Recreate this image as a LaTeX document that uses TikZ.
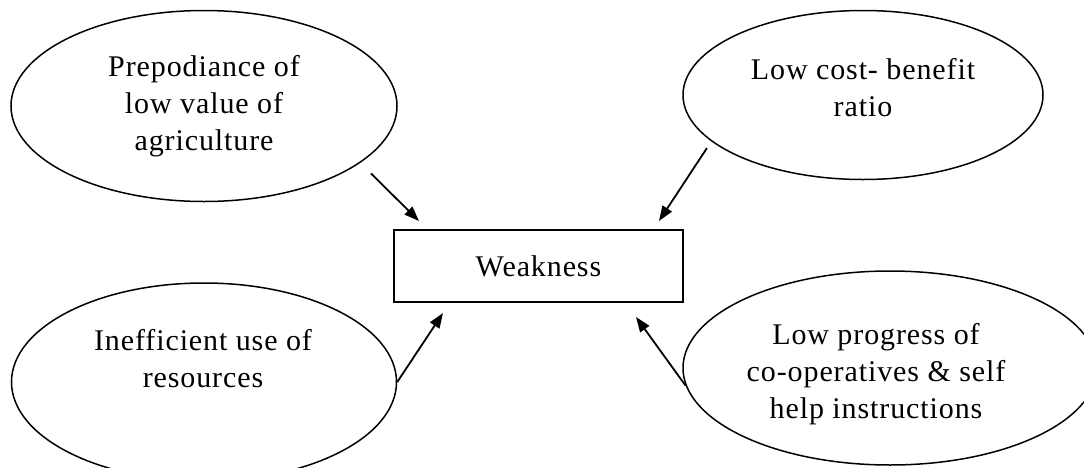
\documentclass[tikz,border=0pt]{standalone}
\usepackage{fontspec}
\setmainfont[LetterSpace=3]{Liberation Serif}
\usetikzlibrary{shapes.geometric,arrows.meta}

\begin{document}
\begin{tikzpicture}[x=0.5pt,y=-0.5pt,
  every node/.style={font=\fontsize{15}{18.5}\selectfont},
  oval/.style={draw,ellipse,line width=0.75pt,inner sep=0pt},
  label text/.style={align=center,inner sep=0pt},
  centre box/.style={draw,rectangle,line width=0.95pt,minimum width=144.5pt,minimum height=36pt,inner sep=0pt},
  arr/.style={line width=0.9pt,-{Triangle[length=7.5pt,width=5.5pt]}}
]
\useasboundingbox (0,0) rectangle (1084,467);

% central box
\node[centre box] (w) at (538.5,266) {Weakness};

% the four causes
\node[oval,minimum width=193pt,minimum height=95.5pt] (tl) at (204,106) {};
\node[label text] (tltext) at (204,106) {Prepodiance of\\low value of\\agriculture};

\node[oval,minimum width=180pt,minimum height=84.5pt] (tr) at (863,95) {};
\node[label text] (trtext) at (863,88) {Low cost- benefit\\ratio};

\node[oval,minimum width=192.5pt,minimum height=99pt] (bl) at (204,382) {};
\node[label text] (bltext) at (203,359) {Inefficient use of\\resources};

\node[oval,minimum width=207pt,minimum height=97pt] (br) at (890,368) {};
\node[label text] (brtext) at (876,374) {Low progress of\\co-operatives \& self\\help instructions};

% arrow tips near the box
\coordinate (tipTL) at (419,221);
\coordinate (tipTR) at (659,221);
\coordinate (tipBL) at (443,313);
\coordinate (tipBR) at (636,317);

\draw[arr,shorten <=7.5pt] (tl.-20) -- (tipTL);
\draw[arr,shorten <=4pt] (tr.197) -- (tipTR);
\draw[arr] (bl.east) -- (tipBL);
\draw[arr] (br.185) -- (tipBR);
\end{tikzpicture}
\end{document}
